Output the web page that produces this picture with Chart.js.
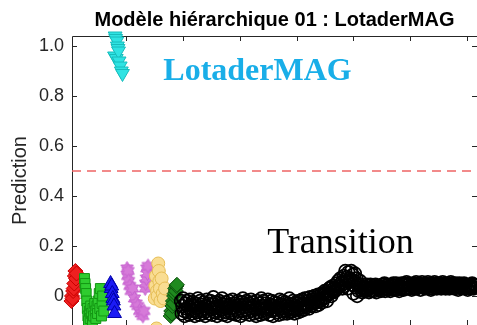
<!DOCTYPE html>
<html>
<head>
<meta charset="utf-8">
<script src="https://cdn.jsdelivr.net/npm/chart.js@4"></script>
<style>
    html, body { margin: 0; padding: 0; overflow: hidden; background: #fff; }
    canvas { display: block; }
</style>
</head>
<body>
<canvas id="pred-chart" width="477" height="325"></canvas>
<script>
// sample index / prediction
const redX = [3, 4, 5, 6, 7, 8, 9, 10, 11, 12]
const redY = [-0.02, 0.0, -0.01, 0.02, 0.03, 0.05, 0.08, 0.1, 0.07, 0.09]

const greenX = [26, 27, 28, 29, 30, 31, 32, 33, 35, 36, 37, 38, 40, 41, 42, 44, 45, 46, 48, 49, 50, 52, 53, 54, 56, 57, 58, 60]
const greenY = [0.07, 0.05, 0.03, 0.01, -0.02, -0.05, -0.08, -0.1, -0.06, -0.09, -0.04, -0.07, -0.1, -0.05, -0.08, -0.03, -0.06, -0.09, -0.04, -0.07, -0.02, 0.01, -0.05, 0.03, -0.08, -0.03, 0.0, -0.06]

const blueX = [72, 73, 74, 75, 76, 77, 78, 79]
const blueY = [0.05, 0.03, 0.04, 0.01, -0.01, -0.02, -0.04, -0.07]

const cyanX = [79, 80, 81, 82, 83, 84, 85, 86, 87, 89, 91, 93]
const cyanY = [0.96, 1.04, 1.03, 0.95, 1.02, 1.0, 0.99, 0.98, 0.94, 0.92, 0.9, 0.89]

const magentaX = [101, 102, 103, 104, 106, 108, 111, 114, 117, 120, 123, 126, 129, 131, 133, 134, 135, 136, 137, 138]
const magentaY = [0.11, 0.08, 0.1, 0.06, 0.04, 0.02, 0.03, -0.01, -0.03, -0.04, -0.06, -0.07, -0.08, -0.06, 0.03, 0.05, 0.07, 0.11, 0.09, 0.12]

const yellowX = [150, 151, 152, 153, 154, 155, 156, 157, 158, 159, 160, 162, 164, 166, 168]
const yellowY = [-0.01, 0.04, 0.08, -0.13, 0.02, 0.0, 0.13, 0.1, 0.06, 0.03, -0.02, 0.07, 0.01, -0.01, 0.03]

const darkGreenX = [178, 179, 180, 181, 182, 183, 184, 185, 186, 187, 188, 189]
const darkGreenY = [-0.08, -0.06, -0.07, -0.04, -0.02, -0.03, 0.0, 0.01, 0.03, 0.02, 0.04, 0.045]

// transition segment, one value per 1.3 samples starting at 196
const blackStart = 196
const blackStep = 1.3
const blackY = [
    -0.02, -0.07, -0.04, -0.01, -0.06, -0.08, -0.03, -0.05, -0.02, -0.065,
    -0.045, -0.075, -0.015, -0.055, -0.035, -0.07, -0.025, -0.06, -0.04, -0.08,
    -0.03, -0.05, -0.065, -0.01, -0.045, -0.075, -0.02, -0.055, -0.035, -0.06,
    -0.07, -0.025, -0.05, -0.08, -0.04, -0.015, -0.06, -0.03, -0.07, -0.045,
    -0.02, -0.055, -0.075, -0.035, -0.005, -0.05, -0.065, -0.025, -0.045, -0.08,
    -0.04, -0.06, -0.02, -0.07, -0.03, -0.055, -0.01, -0.045, -0.075, -0.035,
    -0.065, -0.025, -0.05, -0.08, -0.04, -0.02, -0.06, -0.035, -0.07, -0.05,
    -0.015, -0.045, -0.07, -0.03, -0.055, -0.075, -0.04, -0.02, -0.06, -0.035,
    -0.05, -0.08, -0.025, -0.06, -0.01, -0.045, -0.07, -0.035, -0.055, -0.02,
    -0.04, -0.065, -0.03, -0.075, -0.05, -0.015, -0.06, -0.045, -0.025, -0.07,
    -0.035, -0.055, -0.08, -0.02, -0.045, -0.065, -0.03, -0.05, -0.075, -0.01,
    -0.06, -0.04, -0.02, -0.07, -0.05, -0.03, -0.065, -0.045, -0.015, -0.055,
    -0.075, -0.035, -0.05, -0.02, -0.06, -0.08, -0.04, -0.025, -0.055, -0.045,
    -0.03, -0.065, -0.045, -0.075, -0.015, -0.05, -0.035, -0.06, -0.02, -0.07,
    -0.045, -0.025, -0.06, -0.04, -0.07, -0.03, -0.055, -0.01, -0.05, -0.065,
    -0.035, -0.06, -0.02, -0.05, -0.07, -0.04, -0.025, -0.055, -0.03, -0.065,
    -0.02, -0.05, -0.035, -0.06, -0.015, -0.045, -0.03, -0.055, -0.01, -0.04,
    -0.045, -0.01, -0.035, -0.02, -0.05, -0.005, -0.03, -0.04, -0.015, -0.025,
    -0.03, 0.0, -0.02, -0.04, -0.005, -0.025, 0.005, -0.035, -0.01, -0.02,
    -0.015, 0.01, -0.025, 0.005, -0.01, 0.02, -0.005, 0.015, -0.02, 0.01,
    0.005, 0.03, 0.01, 0.035, 0.0, 0.025, 0.04, 0.015, 0.03, 0.02,
    0.025, 0.05, 0.03, 0.06, 0.035, 0.045, 0.07, 0.04, 0.055, 0.03,
    0.05, 0.08, 0.04, 0.1, 0.06, 0.075, 0.03, 0.095, 0.055, 0.07,
    0.065, 0.1, 0.045, 0.085, 0.01, 0.06, 0.09, 0.035, 0.07, 0.0,
    0.05, 0.02, 0.04, 0.06, 0.025, 0.035, 0.015, 0.045, 0.03, 0.02,
    0.035, 0.02, 0.045, 0.025, 0.04, 0.015, 0.03, 0.045, 0.02, 0.035,
    0.025, 0.04, 0.02, 0.035, 0.045, 0.015, 0.03, 0.04, 0.025, 0.035,
    0.04, 0.02, 0.035, 0.045, 0.025, 0.03, 0.05, 0.02, 0.04, 0.03,
    0.03, 0.045, 0.025, 0.04, 0.02, 0.035, 0.045, 0.03, 0.05, 0.025,
    0.04, 0.03, 0.05, 0.025, 0.035, 0.045, 0.02, 0.04, 0.03, 0.05,
    0.035, 0.045, 0.025, 0.05, 0.03, 0.04, 0.055, 0.03, 0.045, 0.035,
    0.05, 0.03, 0.04, 0.025, 0.045, 0.035, 0.05, 0.03, 0.04, 0.055,
    0.03, 0.045, 0.035, 0.05, 0.04, 0.025, 0.045, 0.055, 0.035, 0.04,
    0.045, 0.03, 0.05, 0.04, 0.035, 0.055, 0.03, 0.045, 0.04, 0.025,
    0.04, 0.05, 0.03, 0.045, 0.055, 0.035, 0.04, 0.03, 0.05, 0.045,
    0.035, 0.05, 0.04, 0.03, 0.045, 0.055, 0.035, 0.04, 0.05, 0.03,
    0.045, 0.035, 0.05, 0.04, 0.03, 0.045, 0.055, 0.035, 0.04, 0.05,
    0.04, 0.03, 0.045, 0.05, 0.035, 0.04, 0.025, 0.045, 0.05, 0.035,
    0.03, 0.045, 0.04, 0.035, 0.05, 0.03, 0.04, 0.045, 0.035, 0.025,
    0.04, 0.035, 0.045, 0.03, 0.04, 0.05, 0.035, 0.03, 0.045, 0.04
]

const threshold = 0.5
const yTicks = [0, 0.2, 0.4, 0.6, 0.8, 1]
const xTicks = [100, 200, 300, 400, 500, 600, 700]
const xMin = 4
const xMax = 718

const pts = (xs, ys) => xs.map((x, i) => ({x: x, y: ys[i]}))

// no extra room for first/last tick labels, the box runs to the canvas edge
const noPad = s => {
    s.paddingLeft = 0
    s.paddingRight = 0
    s.paddingTop = 0
    s.paddingBottom = 0
}

function hexagram(fill, edge, r) {
    const c = document.createElement("canvas")
    const s = Math.ceil(r * 2 + 3)
    c.width = s
    c.height = s
    const g = c.getContext("2d")
    g.beginPath()
    for (let k = 0; k < 12; k++) {
        const a = -Math.PI / 2 + k * Math.PI / 6
        const rr = k % 2 ? r * 0.577 : r
        const px = s / 2 + Math.cos(a) * rr
        const py = s / 2 + Math.sin(a) * rr
        if (k == 0) g.moveTo(px, py)
        else g.lineTo(px, py)
    }
    g.closePath()
    g.fillStyle = fill
    g.fill()
    g.strokeStyle = edge
    g.lineWidth = 1
    g.stroke()
    return c
}

// matlab style box: left/top lines, ticks pointing inwards
const frame = {
    id: "frame",
    beforeDatasetsDraw(chart) {
        const {ctx, chartArea: a, scales: {x, y}} = chart
        ctx.save()
        ctx.strokeStyle = "#262626"
        ctx.lineWidth = 1
        ctx.beginPath()
        ctx.moveTo(a.left + 0.5, a.bottom)
        ctx.lineTo(a.left + 0.5, a.top + 0.5)
        ctx.lineTo(a.right, a.top + 0.5)
        for (const t of yTicks) {
            const p = Math.round(y.getPixelForValue(t)) + 0.5
            ctx.moveTo(a.left, p); ctx.lineTo(a.left + 5, p)
            ctx.moveTo(a.right, p); ctx.lineTo(a.right - 5, p)
        }
        for (const t of xTicks) {
            const p = Math.round(x.getPixelForValue(t)) + 0.5
            ctx.moveTo(p, a.top); ctx.lineTo(p, a.top + 5)
            ctx.moveTo(p, a.bottom); ctx.lineTo(p, a.bottom - 5)
        }
        ctx.stroke()
        ctx.restore()
    },
    afterDraw(chart) {
        const {ctx, scales: {x, y}} = chart
        ctx.save()
        ctx.textBaseline = "alphabetic"
        ctx.font = "bold 32px 'Liberation Serif'"
        ctx.fillStyle = "#19aee8"
        ctx.fillText("LotaderMAG", x.getPixelForValue(165), y.getPixelForValue(0.864))
        ctx.font = "36px 'Liberation Serif'"
        ctx.fillStyle = "#000"
        ctx.fillText("Transition", x.getPixelForValue(348), y.getPixelForValue(0.172))
        ctx.restore()
    }
}

const ctx = document.getElementById("pred-chart").getContext("2d")

const myChart = new Chart(ctx, {
    type: "scatter",
    data: {
        datasets: [
            {
                data: blackY.map((v, i) => ({x: blackStart + i * blackStep, y: v})),
                pointStyle: "circle", pointRadius: 6.3,
                backgroundColor: "rgba(0,0,0,0)", borderColor: "#000", borderWidth: 1.7
            },
            {
                data: pts(darkGreenX, darkGreenY),
                pointStyle: "rectRot", pointRadius: 7.5,
                backgroundColor: "#1f8a1f", borderColor: "#0b4f0b", borderWidth: 1
            },
            {
                data: pts(yellowX, yellowY),
                pointStyle: "circle", pointRadius: 6.5,
                backgroundColor: "#f9dd92", borderColor: "#e6bd55", borderWidth: 1
            },
            {
                data: pts(magentaX, magentaY),
                pointStyle: hexagram("#d67ad9", "#c663cf", 7)
            },
            {
                data: pts(cyanX, cyanY),
                pointStyle: "triangle", rotation: 180, pointRadius: 8,
                backgroundColor: "#2fe3e3", borderColor: "#17bcbc", borderWidth: 1
            },
            {
                data: pts(blueX, blueY),
                pointStyle: "triangle", pointRadius: 8,
                backgroundColor: "#1b1bf5", borderColor: "#0000a8", borderWidth: 1
            },
            {
                data: pts(greenX, greenY),
                pointStyle: "rect", pointRadius: 7,
                backgroundColor: "#2fcc2f", borderColor: "#139613", borderWidth: 1
            },
            {
                data: pts(redX, redY),
                pointStyle: "rectRot", pointRadius: 7.5,
                backgroundColor: "#ee2020", borderColor: "#c80000", borderWidth: 1
            },
            {
                type: "line",
                data: [{x: xMin, y: threshold}, {x: xMax, y: threshold}],
                borderColor: "#ee6464", borderWidth: 1.3, borderDash: [9, 6],
                pointRadius: 0
            }
        ].map(d => Object.assign({clip: false}, d))
    },
    options: {
        responsive: false,
        animation: false,
        events: [],
        layout: { padding: 0, autoPadding: false },
        plugins: {
            legend: { display: false },
            tooltip: { enabled: false },
            title: {
                display: true,
                fullSize: false,
                text: "Modèle hiérarchique 01 : LotaderMAG",
                color: "#000",
                font: { family: "'Liberation Sans', Arial", size: 20, weight: "bold" },
                padding: { top: 8, bottom: 4 }
            }
        },
        scales: {
            x: {
                type: "linear",
                min: xMin,
                max: xMax,
                display: false,
                ticks: { display: false },
                afterFit: noPad
            },
            y: {
                min: -0.116,
                max: 1.04,
                afterBuildTicks: s => { s.ticks = yTicks.map(v => ({value: v})) },
                afterFit: s => { s.width = 72; noPad(s) },
                grid: { display: false, drawTicks: false },
                border: { display: false },
                ticks: {
                    color: "#262626",
                    padding: 8,
                    font: { family: "'Liberation Sans', Arial", size: 18 }
                },
                title: {
                    display: true,
                    text: "Prediction",
                    color: "#262626",
                    font: { family: "'Liberation Sans', Arial", size: 20 },
                    padding: { top: 8, bottom: 0 }
                }
            }
        }
    },
    plugins: [frame]
})
</script>
</body>
</html>
